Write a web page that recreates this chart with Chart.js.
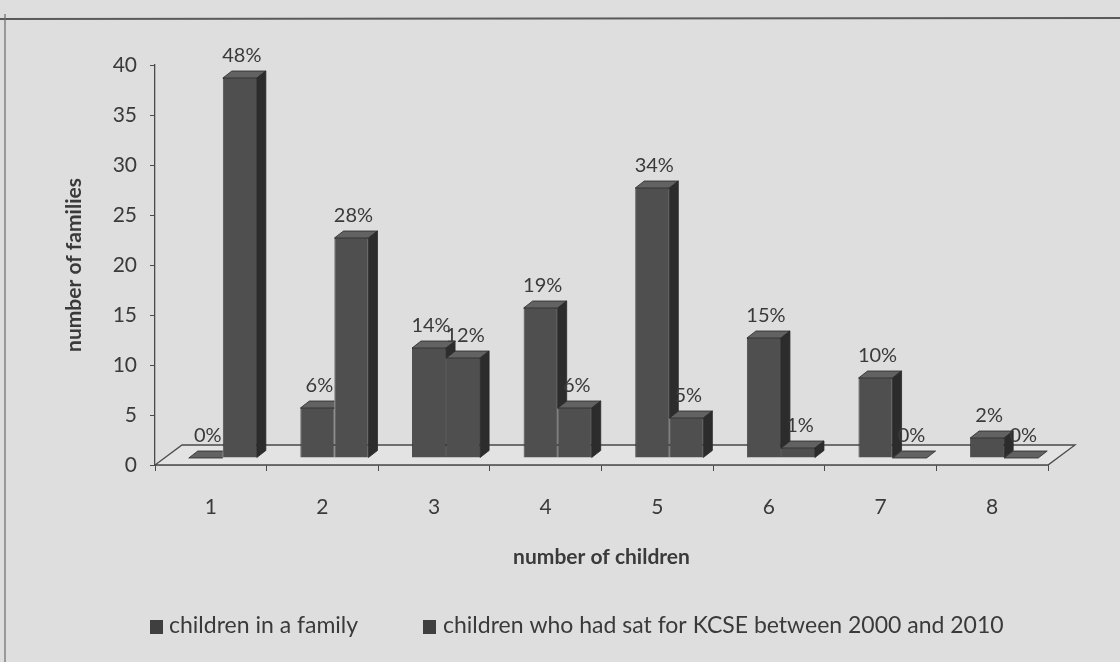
<!DOCTYPE html>
<html>
<head>
<meta charset="utf-8">
<script src="https://cdn.jsdelivr.net/npm/chart.js@4.4.1/dist/chart.umd.min.js"></script>
<style>
  html, body { margin: 0; padding: 0; background: #dedede; }
  #wrap { width: 1120px; height: 662px; }
</style>
</head>
<body>
<div id="wrap"><canvas id="c" width="1120" height="662"></canvas></div>
<script>
// ---- data ----
const categories = ['1', '2', '3', '4', '5', '6', '7', '8'];
const seriesNames = ['children in a family', 'children who had sat for KCSE between 2000 and 2010'];
const childrenInFamily = [0, 5, 11, 15, 27, 12, 8, 2];
const satKCSE = [38, 22, 10, 5, 4, 1, 0, 0];
const pctInFamily = ['0%', '6%', '14%', '19%', '34%', '15%', '10%', '2%'];
const pctSatKCSE = ['48%', '28%', '12%', '6%', '5%', '1%', '0%', '0%'];
const yTicks = [0, 5, 10, 15, 20, 25, 30, 35, 40];

// ---- style ----
const FONT = 'Lato, "Liberation Sans", sans-serif';
const TXT = '#3a3a3a';
const FRONT = '#4f4f4f', TOPC = '#626262', SIDE = '#2c2c2c', EDGE = '#2a2a2a';
const SHIFT_X = 12, SHIFT_Y = -7;     // bars sit inside the 3D floor
const DEP_X = 9, DEP_Y = -7;          // bar depth
const FLOOR_DX = 27, FLOOR_DY = -20;  // floor depth

Chart.defaults.font.family = FONT;
Chart.defaults.color = TXT;

function poly(ctx, pts, fill) {
  ctx.beginPath();
  ctx.moveTo(pts[0][0], pts[0][1]);
  for (let i = 1; i < pts.length; i++) ctx.lineTo(pts[i][0], pts[i][1]);
  ctx.closePath();
  ctx.fillStyle = fill;
  ctx.fill();
  ctx.lineWidth = 0.8;
  ctx.strokeStyle = EDGE;
  ctx.stroke();
}

const threeD = {
  id: 'threeD',
  beforeDraw(chart) {
    const ctx = chart.ctx;
    ctx.save();
    ctx.fillStyle = '#dedede';
    ctx.fillRect(0, 0, chart.width, chart.height);
    ctx.strokeStyle = '#5a5a5a';
    ctx.lineWidth = 2;
    ctx.beginPath();
    ctx.moveTo(0, 19); ctx.lineTo(chart.width, 18);
    ctx.stroke();
    ctx.lineWidth = 1.2;
    ctx.strokeStyle = '#6a6a6a';
    ctx.beginPath();
    ctx.moveTo(5, 14); ctx.lineTo(5, chart.height);
    ctx.stroke();
    ctx.restore();
  },
  beforeDatasetsDraw(chart) {
    const ctx = chart.ctx, a = chart.chartArea;
    ctx.save();
    ctx.beginPath();
    ctx.moveTo(a.left, a.bottom);
    ctx.lineTo(a.right, a.bottom);
    ctx.lineTo(a.right + FLOOR_DX, a.bottom + FLOOR_DY);
    ctx.lineTo(a.left + FLOOR_DX, a.bottom + FLOOR_DY);
    ctx.closePath();
    ctx.fillStyle = '#e3e3e3';
    ctx.fill();
    ctx.strokeStyle = '#4a4a4a';
    ctx.lineWidth = 1.3;
    ctx.stroke();
    ctx.restore();
  },
  beforeDatasetDraw(chart) {
    chart.ctx.save();
    chart.ctx.translate(SHIFT_X, SHIFT_Y);
  },
  afterDatasetDraw(chart, args) {
    const ctx = chart.ctx;
    const idx = args.index;
    const other = idx === 0 ? chart.getDatasetMeta(1) : null;
    args.meta.data.forEach((el, i) => {
      const p = el.getProps(['x', 'y', 'base', 'width'], true);
      const x0 = p.x - p.width / 2, x1 = p.x + p.width / 2;
      const y = p.y, base = p.base;
      let nextTop = null;
      if (other && other.data[i]) nextTop = other.data[i].getProps(['y'], true).y;
      // top face
      ctx.save();
      if (nextTop !== null && nextTop < y) {
        ctx.beginPath(); ctx.rect(0, 0, x1, chart.height); ctx.clip();
      }
      poly(ctx, [[x0, y], [x1, y], [x1 + DEP_X, y + DEP_Y], [x0 + DEP_X, y + DEP_Y]], TOPC);
      ctx.restore();
      // side face
      const sideBottom = nextTop !== null ? Math.min(base, nextTop) : base;
      if (sideBottom > y) {
        poly(ctx, [[x1, y], [x1 + DEP_X, y + DEP_Y], [x1 + DEP_X, sideBottom + DEP_Y], [x1, sideBottom]], SIDE);
      }
    });
    ctx.restore();
  },
  afterDatasetsDraw(chart) {
    const ctx = chart.ctx;
    const pcts = [pctInFamily, pctSatKCSE];
    ctx.save();
    ctx.font = '20px ' + FONT;
    ctx.fillStyle = TXT;
    ctx.textAlign = 'center';
    ctx.textBaseline = 'middle';
    [0, 1].forEach(d => {
      chart.getDatasetMeta(d).data.forEach((el, i) => {
        const p = el.getProps(['x', 'y'], true);
        ctx.fillText(pcts[d][i], p.x + SHIFT_X + 2, p.y + SHIFT_Y - 22);
      });
    });
    ctx.restore();
  },
  afterDraw(chart) {
    const ctx = chart.ctx;
    const items = [[150, 169], [423, 443]];
    ctx.save();
    ctx.font = '23px ' + FONT;
    ctx.textBaseline = 'middle';
    ctx.textAlign = 'left';
    items.forEach((it, k) => {
      ctx.fillStyle = '#3f3f3f';
      ctx.fillRect(it[0], 620, 13, 14);
      ctx.fillStyle = TXT;
      ctx.fillText(chart.data.datasets[k].label, it[1], 626);
    });
    ctx.restore();
  }
};

new Chart(document.getElementById('c'), {
  type: 'bar',
  data: {
    labels: categories,
    datasets: [
      { label: seriesNames[0], data: childrenInFamily, backgroundColor: FRONT, borderColor: EDGE, borderWidth: 0.8,
        categoryPercentage: 0.61, barPercentage: 1.0 },
      { label: seriesNames[1], data: satKCSE, backgroundColor: FRONT, borderColor: EDGE, borderWidth: 0.8,
        categoryPercentage: 0.61, barPercentage: 1.0 }
    ]
  },
  options: {
    responsive: false,
    animation: false,
    devicePixelRatio: 1,
    layout: { padding: { left: 62, right: 72, top: 65, bottom: 92 } },
    plugins: { legend: { display: false }, tooltip: { enabled: false } },
    scales: {
      x: {
        afterFit(s) { s.height = 105; },
        grid: { display: true, drawOnChartArea: false, drawTicks: true, tickLength: 6, color: '#4a4a4a', offset: true },
        border: { display: true, color: '#4a4a4a', width: 1.3 },
        ticks: { font: { size: 21 }, padding: 24, color: TXT },
        title: { display: true, text: 'number of children', font: { size: 21, weight: 'bold' }, color: TXT, padding: 0 }
      },
      y: {
        min: 0, max: 40,
        afterFit(s) { s.width = 93; },
        afterBuildTicks(s) { s.ticks = yTicks.map(v => ({ value: v })); },
        grid: { display: true, drawOnChartArea: false, drawTicks: true, tickLength: 5, color: '#4a4a4a' },
        border: { display: true, color: '#4a4a4a', width: 1.3 },
        ticks: { font: { size: 21 }, padding: 13, color: TXT },
        title: { display: true, text: 'number of families', font: { size: 21, weight: 'bold' }, color: TXT, padding: 0 }
      }
    }
  },
  plugins: [threeD]
});
</script>
</body>
</html>
